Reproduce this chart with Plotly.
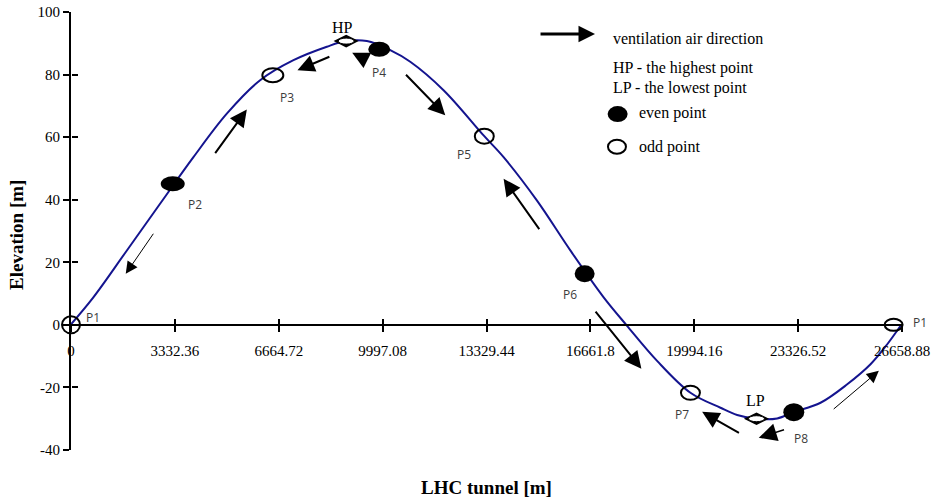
import plotly.graph_objects as go

# ---- data ----
tunnel_x = [0, 717, 1787, 2857, 3927, 4998, 6067, 7137, 8208, 8828, 9493, 10241, 10883, 11952,
            13259, 13878, 14950, 16019, 17088, 17839, 18802, 19872, 20835, 21371, 21991, 22655,
            23188, 24046, 24902, 25649, 26186, 26613]
elevation = [0.2, 8.8, 23.7, 38.7, 53.6, 67.5, 78.2, 84.6, 88.9, 90.7, 90.7, 87.8, 84.1, 75.0,
             60.3, 53.6, 39.7, 23.8, 8.8, -0.3, -11.5, -21.7, -26.5, -28.8, -30.0, -29.9,
             -27.9, -24.9, -19.0, -12.6, -6.2, -0.3]

point_names = ["P1", "P2", "P3", "P4", "P5", "P6", "P7", "P8", "P1"]
point_x = [0, 3264, 6475, 9888, 13259, 16478, 19872, 23188, 26390]
point_y = [0, 45.1, 79.8, 88.1, 60.3, 16.3, -21.7, -27.9, 0]
point_even = [False, True, False, True, False, True, False, True, False]

extreme_names = ["HP", "LP"]
extreme_x = [8828, 21991]
extreme_y = [90.7, -30.0]

x_tickvals = [0, 3332.36, 6664.72, 9997.08, 13329.44, 16661.8, 19994.16, 23326.52, 26658.88]
x_ticktext = ["0", "3332.36", "6664.72", "9997.08", "13329.44", "16661.8", "19994.16",
              "23326.52", "26658.88"]
y_tickvals = [-40, -20, 0, 20, 40, 60, 80, 100]
y_ticktext = ["-40", "-20", "0", "20", "40", "60", "80", "100"]

# ventilation arrows: (tail_x, tail_y, head_x, head_y)
arrow_tail_x = [2674, 4591, 8337, 9493, 10700, 15056, 16790, 21477, 22922, 24420]
arrow_tail_y = [29.6, 54.4, 85.9, 84.6, 80.4, 30.1, 4.7, -34.8, -33.4, -27.3]
arrow_head_x = [1756, 5641, 7265, 9021, 12006, 13878, 18298, 20247, 22064, 25916]
arrow_head_y = [16.3, 68.8, 81.4, 87.0, 67.0, 46.7, -14.0, -27.8, -36.1, -14.7]

# ---- styles ----
XMAX = 26658.88
YMIN, YMAX = -40, 100
SERIF = "Liberation Serif"
SANS = "Open Sans"
arrow_widths = [1, 2, 2, 2, 2, 2, 2, 2, 1.5, 1]
ell_w = [18, 24, 21, 22, 19, 20, 19, 21, 18]
ell_h = [17, 15, 14, 15, 15, 17, 14, 18, 12]
label_dx = [22, 22, 14, 0, -20, -15, -8, 7, 26]
label_dy = [7, -21, -22, -23, -18, -21, -22, -26, 2]
ext_dx = [-4, -1]
ext_dy = [14, 18]

fig = go.Figure()

fig.add_trace(go.Scatter(
    x=tunnel_x, y=elevation, mode="lines",
    line=dict(color="#14148f", width=2, shape="spline", smoothing=1.0),
    cliponaxis=False, showlegend=False, hoverinfo="skip"))

fig.add_trace(go.Scatter(
    x=extreme_x, y=extreme_y, mode="markers",
    marker=dict(symbol="diamond-wide", size=18, color="black"),
    cliponaxis=False, showlegend=False, hoverinfo="skip"))

# invisible trace for the overlay axes (cross ticks)
fig.add_trace(go.Scatter(x=[0], y=[0], xaxis="x2", yaxis="y2", mode="markers",
                         marker=dict(opacity=0), showlegend=False, hoverinfo="skip"))

shapes = []
for i, (px, py) in enumerate(zip(point_x, point_y)):
    even = point_even[i]
    w, h = ell_w[i], ell_h[i]
    shapes.append(dict(
        type="circle", xref="paper", yref="y",
        xsizemode="pixel", ysizemode="pixel",
        xanchor=px / XMAX, yanchor=py,
        x0=-w / 2, x1=w / 2, y0=-h / 2, y1=h / 2,
        fillcolor="black" if even else "rgba(0,0,0,0)",
        line=dict(color="black", width=0 if even else 2)))

for ex, ey in zip(extreme_x, extreme_y):
    shapes.append(dict(
        type="circle", xref="paper", yref="y",
        xsizemode="pixel", ysizemode="pixel",
        xanchor=ex / XMAX, yanchor=ey,
        x0=-8, x1=8, y0=-3, y1=3,
        fillcolor="white", line=dict(color="black", width=1)))

# legend ellipses
shapes.append(dict(type="circle", xref="paper", yref="paper", xsizemode="pixel", ysizemode="pixel",
                   xanchor=0.6578, yanchor=0.767, x0=-10, x1=10, y0=-8, y1=8,
                   fillcolor="black", line=dict(color="black", width=0)))
shapes.append(dict(type="circle", xref="paper", yref="paper", xsizemode="pixel", ysizemode="pixel",
                   xanchor=0.657, yanchor=0.6925, x0=-9, x1=9, y0=-7, y1=7,
                   fillcolor="rgba(0,0,0,0)", line=dict(color="black", width=2)))

annotations = []
for i, (px, py) in enumerate(zip(point_x, point_y)):
    annotations.append(dict(x=px, y=py, xref="x", yref="y", text=point_names[i],
                            showarrow=False, xshift=label_dx[i], yshift=label_dy[i],
                            font=dict(family=SANS, size=12, color="#3c3c3c")))
for i, (ex, ey) in enumerate(zip(extreme_x, extreme_y)):
    annotations.append(dict(x=ex, y=ey, xref="x", yref="y", text=extreme_names[i],
                            showarrow=False, xshift=ext_dx[i], yshift=ext_dy[i],
                            font=dict(family=SERIF, size=16, color="black")))

for i in range(len(arrow_tail_x)):
    annotations.append(dict(x=arrow_head_x[i], y=arrow_head_y[i], xref="x", yref="y",
                            ax=arrow_tail_x[i], ay=arrow_tail_y[i], axref="x", ayref="y",
                            text="", showarrow=True, arrowhead=2,
                            arrowsize=1.7 if arrow_widths[i] >= 2 else 2.4,
                            arrowwidth=arrow_widths[i], arrowcolor="black", standoff=0))

# legend arrow + texts
annotations.append(dict(x=0.6306, y=0.950, xref="paper", yref="paper", ax=-56, ay=0,
                        text="", showarrow=True, arrowhead=2, arrowsize=1.1, arrowwidth=3,
                        arrowcolor="black", standoff=0))
legend_texts = [("ventilation air direction", 0.650, 0.9406),
                ("HP - the highest point", 0.650, 0.872),
                ("LP - the lowest point", 0.650, 0.8265),
                ("even point", 0.6808, 0.769),
                ("odd point", 0.6808, 0.6925)]
for t, lx, ly in legend_texts:
    annotations.append(dict(x=lx, y=ly, xref="paper", yref="paper", text=t, showarrow=False,
                            xanchor="left", yanchor="middle",
                            font=dict(family=SERIF, size=16, color="black")))

# axis titles
annotations.append(dict(x=0.5, y=-0.0845, xref="paper", yref="paper", text="<b>LHC tunnel [m]</b>",
                        showarrow=False, yanchor="middle",
                        font=dict(family=SERIF, size=19, color="black")))
annotations.append(dict(x=-0.065, y=0.491, xref="paper", yref="paper", text="<b>Elevation [m]</b>",
                        showarrow=False, textangle=-90, xanchor="center", yanchor="middle",
                        font=dict(family=SERIF, size=19, color="black")))

xpos = (0 - YMIN) / (YMAX - YMIN)

fig.update_layout(
    width=933, height=499,
    margin=dict(l=71, r=31, t=12, b=49),
    plot_bgcolor="white", paper_bgcolor="white",
    showlegend=False,
    shapes=shapes, annotations=annotations,
    xaxis=dict(range=[0, XMAX], anchor="free", position=xpos, automargin=False,
               showline=True, linecolor="black", linewidth=2,
               ticks="outside", ticklen=6, tickwidth=1.5, tickcolor="black",
               tickvals=x_tickvals, ticktext=x_ticktext, ticklabelstandoff=6,
               ticklabeloverflow="allow",
               tickfont=dict(family=SERIF, size=15, color="black"),
               showgrid=False, zeroline=False),
    yaxis=dict(range=[YMIN, YMAX], showline=True, linecolor="black", linewidth=2, automargin=False,
               ticks="outside", ticklen=6, tickwidth=1.5, tickcolor="black",
               tickvals=y_tickvals, ticktext=y_ticktext, ticklabeloverflow="allow",
               tickfont=dict(family=SERIF, size=15, color="black"),
               showgrid=False, zeroline=False),
    xaxis2=dict(range=[0, XMAX], overlaying="x", anchor="free", position=xpos, automargin=False,
                showline=False, ticks="inside", ticklen=6, tickwidth=1.5, tickcolor="black",
                tickvals=x_tickvals, showticklabels=False, showgrid=False, zeroline=False),
    yaxis2=dict(range=[YMIN, YMAX], overlaying="y", anchor="free", position=0, automargin=False,
                showline=False, ticks="inside", ticklen=6, tickwidth=1.5, tickcolor="black",
                tickvals=y_tickvals, showticklabels=False, showgrid=False, zeroline=False),
)

# remove the page's default body margin so the figure fills the window exactly
fig.write_html("out.html",
               config={"displayModeBar": False},
               post_script="document.body.style.margin='0';"
                           "document.documentElement.style.overflow='hidden';")
